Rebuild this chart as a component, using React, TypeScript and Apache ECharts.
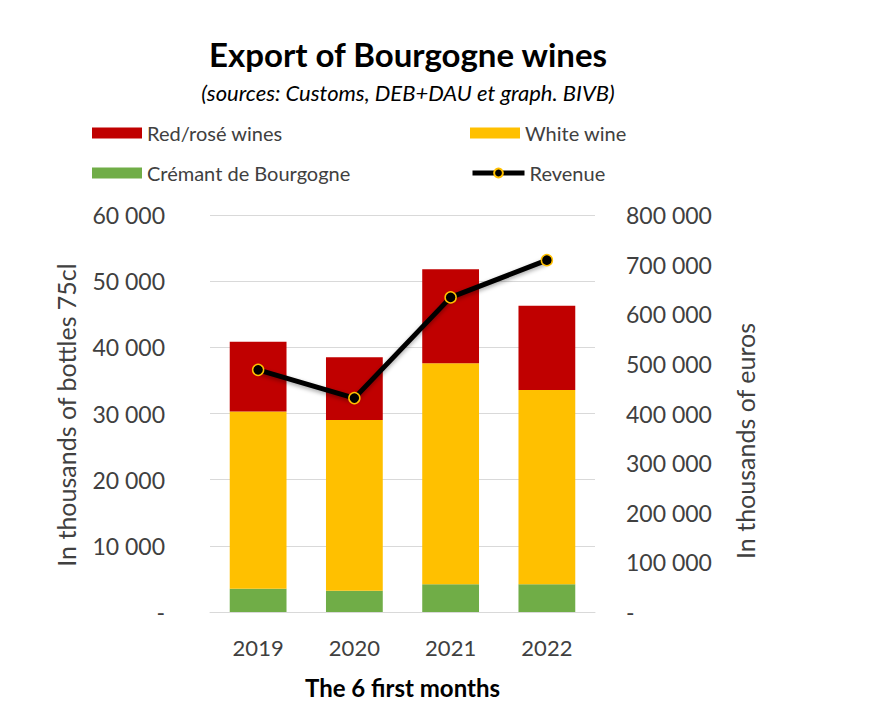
import React, { useEffect, useRef } from "react";
import * as echarts from "echarts";

const categories = ["2019", "2020", "2021", "2022"];
const cremant = [3500, 3200, 4200, 4200];
const whiteWine = [26800, 25800, 33400, 29350];
const redRose = [10550, 9500, 14200, 12750];
const revenue = [488000, 431000, 634000, 709000];

const leftTicks = { min: 0, max: 60000, interval: 10000 };
const rightTicks = { min: 0, max: 800000, interval: 100000 };

const FONT = "Lato, 'Open Sans', sans-serif";
const TXT = "#404040";

function fmt(v: number): string {
  if (v === 0) return "-";
  return String(v).replace(/\B(?=(\d{3})+(?!\d))/g, " ");
}

export default function App() {
  const ref = useRef<HTMLDivElement>(null);
  useEffect(() => {
    if (!ref.current) return;
    const chart = echarts.init(ref.current, undefined, { renderer: "svg" });
    const legendBase = {
      itemWidth: 50,
      itemHeight: 11,
      icon: "rect",
      padding: 0,
      textStyle: { fontFamily: FONT, fontSize: 20, color: TXT },
      selectedMode: false,
    };
    chart.setOption({
      animation: false,
      backgroundColor: "#ffffff",
      graphic: [
        {
          type: "text",
          x: 408,
          y: 54,
          style: {
            text: "Export of Bourgogne wines",
            font: `bold 33px ${FONT}`,
            fill: "#000",
            align: "center",
            verticalAlign: "middle",
          },
        },
        {
          type: "text",
          x: 408,
          y: 92,
          style: {
            text: "(sources: Customs, DEB+DAU et graph. BIVB)",
            font: `italic 22px ${FONT}`,
            fill: "#000",
            align: "center",
            verticalAlign: "middle",
          },
        },
        {
          type: "text",
          x: 66,
          y: 415,
          rotation: Math.PI / 2,
          style: {
            text: "In thousands of bottles 75cl",
            font: `25px ${FONT}`,
            fill: TXT,
            align: "center",
            verticalAlign: "middle",
          },
        },
        {
          type: "text",
          x: 745,
          y: 441,
          rotation: Math.PI / 2,
          style: {
            text: "In thousands of euros",
            font: `25px ${FONT}`,
            fill: TXT,
            align: "center",
            verticalAlign: "middle",
          },
        },
      ],
      legend: [
        { ...legendBase, data: ["Red/rosé wines"], left: 92, top: 123 },
        { ...legendBase, data: ["White wine"], left: 470, top: 123 },
        { ...legendBase, data: ["Crémant de Bourgogne"], left: 92, top: 163 },
        {
          ...legendBase,
          icon: undefined,
          itemWidth: 52,
          itemHeight: 11,
          data: ["Revenue"],
          left: 470,
          top: 163,
          lineStyle: { width: 5, color: "#000" },
        },
      ],
      grid: { left: 210, right: 282, top: 215, bottom: 107 },
      xAxis: {
        type: "category",
        data: categories,
        axisLine: { lineStyle: { color: "#d9d9d9", width: 1 } },
        axisTick: { show: false },
        axisLabel: { fontFamily: FONT, fontSize: 22, color: TXT, margin: 24 },
        name: "The 6 first months",
        nameLocation: "middle",
        nameGap: 63,
        nameTextStyle: { fontFamily: FONT, fontSize: 24, fontWeight: "bold", color: "#000" },
      },
      yAxis: [
        {
          type: "value",
          ...leftTicks,
          axisLine: { show: false },
          axisTick: { show: false },
          splitLine: { lineStyle: { color: "#d9d9d9", width: 1 } },
          axisLabel: {
            fontFamily: FONT,
            fontSize: 23,
            color: TXT,
            margin: 45,
            formatter: (v: number) => fmt(v),
          },
        },
        {
          type: "value",
          ...rightTicks,
          position: "right",
          axisLine: { show: false },
          axisTick: { show: false },
          splitLine: { show: false },
          axisLabel: {
            fontFamily: FONT,
            fontSize: 23,
            color: TXT,
            margin: 31,
            formatter: (v: number) => fmt(v),
          },
        },
      ],
      series: [
        {
          name: "Crémant de Bourgogne",
          type: "bar",
          stack: "vol",
          barWidth: "59%",
          data: cremant,
          itemStyle: { color: "#70AD47" },
        },
        {
          name: "White wine",
          type: "bar",
          stack: "vol",
          data: whiteWine,
          itemStyle: { color: "#FFC000" },
        },
        {
          name: "Red/rosé wines",
          type: "bar",
          stack: "vol",
          data: redRose,
          itemStyle: { color: "#C00000" },
        },
        {
          name: "Revenue",
          type: "line",
          yAxisIndex: 1,
          data: revenue,
          symbol: "circle",
          symbolSize: 11,
          lineStyle: {
            color: "#000",
            width: 5,
            shadowBlur: 4,
            shadowColor: "rgba(0,0,0,0.35)",
            shadowOffsetY: 2,
          },
          itemStyle: { color: "#000", borderColor: "#FFC000", borderWidth: 1.5 },
          z: 5,
        },
      ],
    });
    return () => chart.dispose();
  }, []);
  return (
    <div
      ref={ref}
      style={{ position: "fixed", left: 0, top: 0, width: 877, height: 719 }}
    />
  );
}
